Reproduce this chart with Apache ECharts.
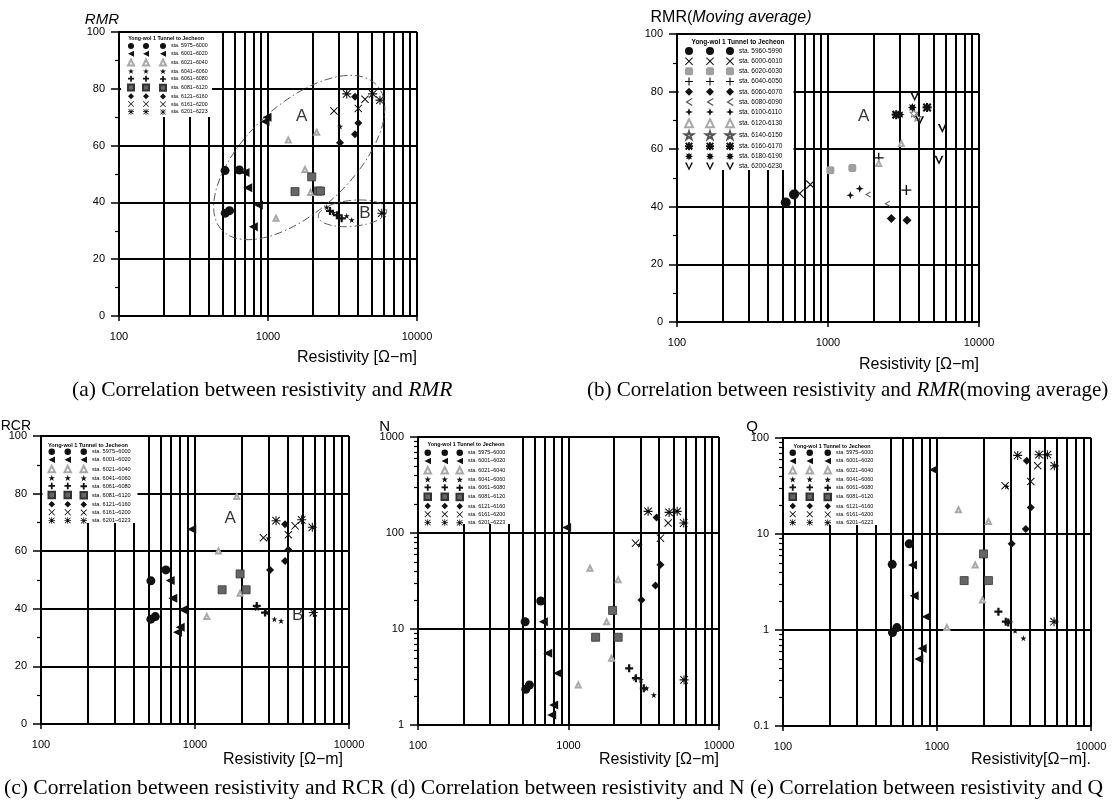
<!DOCTYPE html>
<html><head><meta charset="utf-8">
<script src="https://cdn.jsdelivr.net/npm/echarts@6/dist/echarts.min.js"></script>
<style>html,body{margin:0;padding:0;background:#fff}#c{width:1115px;height:810px}</style>
</head><body><div id="c"></div>
<script>
// ---------- tick values ----------
const xTicks = [100, 1000, 10000];
const yLinTicks = [0, 100];
const nTicks = [1, 1000];
const qTicks = [0.1, 100];

// ---------- legend names ----------
const staNames = ['sta. 5975~6000','sta. 6001~6020','sta. 6021~6040','sta. 6041~6060','sta. 6061~6080','sta. 6081~6120','sta. 6121~6160','sta. 6161~6200','sta. 6201~6223'];
const avgNames = ['sta. 5960-5990','sta. 6000-6010','sta. 6020-6030','sta. 6040-6050','sta. 6060-6070','sta. 6080-6090','sta. 6100-6110','sta. 6120-6130','sta. 6140-6150','sta. 6160-6170','sta. 6180-6190','sta. 6200-6230'];

// ---------- (a) RMR ----------
const rmr1 = [[515,51.2],[517,36.2],[552,37.1],[642,51.4]];
const rmr2 = [[701,50.5],[731,45.2],[861,39.1],[797,31.4],[955,68.5],[985,70]];
const rmr3 = [[1368,62],[2122,64.7],[1771,51.6],[1132,34.4],[1930,43.5]];
const rmr4 = [[2478,38.3],[2743,36.4],[3375,35.2],[3646,33.8],[3043,66.7]];
const rmr5 = [[2606,37],[2900,35.5],[3121,34.4]];
const rmr6 = [[1518,43.8],[1965,49],[2177,44],[2250,44]];
const rmr7 = [[3043,61],[3837,64],[4036,68],[3837,77.2]];
const rmr8 = [[2773,72.2],[4036,73.1],[4477,76.3]];
const rmr9 = [[3375,78.2],[5044,78.2],[5645,76],[5800,36.2]];
const rmrTags = [[1683,70.2,'A'],[4477,36.2,'B']];
const rmrEllipses = [[489,30.3,5370,81.3,0.5],[2176,35,6263,37.3,0.38]];

// ---------- (b) RMR moving average ----------
const avg1 = [[525,41.5],[595,44.3]];
const avg2 = [[649,44.6],[764,47.7]];
const avg3 = [[1036,52.7],[1449,53.5]];
const avg4 = [[2166,57],[3304,45.8]];
const avg5 = [[2626,35.9],[3337,35.3]];
const avg6 = [[1841,44.3],[2472,41.1]];
const avg7 = [[1406,44],[1622,46.3]];
const avg8 = [[3060,62],[2166,55]];
const avg9 = [[3700,72.5],[3900,71]];
const avg10 = [[2830,72],[4530,74.5]];
const avg11 = [[3000,72],[3620,74.5]];
const avg12 = [[3750,78.2],[4045,69.9],[5718,67.2],[5433,56.2]];
const avgTags = [[1723,71.3,'A']];

// ---------- (c) RCR ----------
const rcr1 = [[517,49.7],[517,36.4],[552,37.3],[647,53.5]];
const rcr2 = [[690,49.8],[718,43.7],[834,39.7],[801,33.6],[770,31.9],[953,67.6]];
const rcr3 = [[1420,60.1],[1868,79],[1193,37.3],[1963,45.4]];
const rcr4 = [[2518,40.2],[2926,38.7],[3279,36.4],[3622,35.8],[2998,64.5]];
const rcr5 = [[2518,41],[2851,38.7]];
const rcr6 = [[1500,46.6],[1963,52.1],[2147,46.6]];
const rcr7 = [[3073,53.5],[3846,56.6],[4040,60.5],[3846,69.4]];
const rcr8 = [[2782,64.7],[4040,65.7],[4467,68.8]];
const rcr9 = [[3360,70.6],[4930,70.9],[5780,68.3],[5870,38.7]];
const rcrTags = [[1692,71.4,'A'],[4645,37.9,'B']];

// ---------- (d) N ----------
const n1 = [[515,11.9],[520,2.36],[550,2.61],[654,19.6]];
const n2 = [[681,11.9],[728,5.59],[848,3.46],[797,1.62],[773,1.27],[972,114]];
const n3 = [[1389,43],[2138,32.5],[1791,11.9],[1932,4.96],[1161,2.61]];
const n4 = [[2760,3.07],[3027,2.95],[3297,2.41],[3690,2.05],[2978,75.3]];
const n5 = [[2530,3.9],[2805,3.07],[3165,2.41]];
const n6 = [[1514,8.2],[1963,15.6],[2138,8.2]];
const n7 = [[3055,20.1],[3784,28.4],[4083,46.6],[3846,145]];
const n8 = [[2788,78.4],[4083,88.4],[4592,127]];
const n9 = [[3381,168],[4660,164],[5271,168],[5831,127],[5861,2.95]];

// ---------- (e) Q ----------
const q1 = [[512,4.83],[514,0.94],[549,1.06],[660,7.9]];
const q2 = [[693,4.75],[711,2.27],[851,1.37],[801,0.64],[762,0.5],[949,46.7]];
const q3 = [[1378,17.9],[2158,13.5],[1769,4.75],[1972,2.05],[1158,1.06]];
const q4 = [[2983,1.22],[3213,0.98],[3641,0.82],[2838,31.3]];
const q5 = [[2505,1.55],[2795,1.22],[2900,1.2]];
const q6 = [[1501,3.27],[2004,6.2],[2158,3.27]];
const q7 = [[3056,7.9],[3770,11.3],[4062,18.9],[3828,57.9]];
const q8 = [[2768,31.8],[4062,35.3],[4508,51.4]];
const q9 = [[3343,65.9],[4600,67],[5210,67],[5780,51.4],[5754,1.22]];

// ---------- styles ----------
const SANS = '"Liberation Sans", Arial, sans-serif';
const SERIF = '"Liberation Serif", "Times New Roman", serif';
const SYM = {
  leftTri: 'path://M0,5L10,0L10,10Z',
  star5: 'path://M5,0L6.18,3.62L10,3.62L6.91,5.86L8.09,9.5L5,7.26L1.91,9.5L3.09,5.86L0,3.62L3.82,3.62Z',
  plusBold: 'path://M3.6,0H6.4V3.6H10V6.4H6.4V10H3.6V6.4H0V3.6H3.6Z',
  plusThin: 'path://M4.3,0H5.7V4.3H10V5.7H5.7V10H4.3V5.7H0V4.3H4.3Z',
  cross: 'path://M0,0.9L0.9,0L5,4.1L9.1,0L10,0.9L5.9,5L10,9.1L9.1,10L5,5.9L0.9,10L0,9.1L4.1,5Z',
  asterisk: 'path://M4.4,0H5.6V10H4.4Z M0,4.4H10V5.6H0Z M1.2,0.4L9.6,8.8L8.8,9.6L0.4,1.2Z M8.8,0.4L9.6,1.2L1.2,9.6L0.4,8.8Z',
  asteriskBold: 'path://M3.8,0H6.2V10H3.8Z M0,3.8H10V6.2H0Z M1.7,0L10,8.3L8.3,10L0,1.7Z M8.3,0L10,1.7L1.7,10L0,8.3Z',
  star4: 'path://M5,0L6.3,3.7L10,5L6.3,6.3L5,10L3.7,6.3L0,5L3.7,3.7Z',
  burst: 'path://M10,5L7.59,6.07L8.54,8.54L6.07,7.59L5,10L3.93,7.59L1.46,8.54L2.41,6.07L0,5L2.41,3.93L1.46,1.46L3.93,2.41L5,0L6.07,2.41L8.54,1.46L7.59,3.93Z',
  vee: 'path://M0,0L2.2,0L5,6.5L7.8,0L10,0L5,10Z',
  hook: 'path://M9,0L10,1.2L4,5L10,8.8L9,10L1,5Z'
};
const K = '#111';
const staStyles = [
  {symbol:'circle', size:9, color:K},
  {symbol:SYM.leftTri, size:9, color:K},
  {symbol:'emptyTriangle', size:5, color:'#a8a8a8'},
  {symbol:SYM.star5, size:6, color:K},
  {symbol:SYM.plusBold, size:8, color:K},
  {symbol:'rect', size:8, color:'#666', border:'#333'},
  {symbol:'diamond', size:8, color:K},
  {symbol:SYM.cross, size:8, color:K},
  {symbol:SYM.asterisk, size:9, color:K}
];
const avgStyles = [
  {symbol:'circle', size:10, color:K},
  {symbol:SYM.cross, size:9, color:K},
  {symbol:'roundRect', size:8, color:'#a0a0a0'},
  {symbol:SYM.plusThin, size:10, color:K},
  {symbol:'diamond', size:9, color:K},
  {symbol:SYM.hook, size:6, color:'#555'},
  {symbol:SYM.star4, size:8, color:K},
  {symbol:'emptyTriangle', size:5, color:'#aaa'},
  {symbol:SYM.star5, size:8, color:'#fff', border:'#555'},
  {symbol:SYM.asteriskBold, size:9, color:K},
  {symbol:SYM.burst, size:9, color:K},
  {symbol:SYM.vee, size:9, color:K}
];

const fmtTick = v => String(+Number(v).toPrecision(6));

const grids = [
  {left:119, top:32, width:298, height:284},
  {left:677, top:34, width:302, height:288},
  {left:41, top:436, width:308, height:288},
  {left:418, top:437, width:301, height:288},
  {left:783, top:438, width:308, height:288}
].map(g => Object.assign(g, {containLabel:false, outerBoundsMode:'none'}));

function makeX(i, name, padTop, padRight) {
  return {
    type:'log', logBase:10, gridIndex:i, min:xTicks[0], max:xTicks[xTicks.length-1],
    axisLine:{show:true, onZero:false, lineStyle:{color:'#000', width:2}},
    axisTick:{show:true, length:5, inside:false, lineStyle:{color:'#000', width:1.5}},
    minorTick:{show:false, splitNumber:9},
    splitLine:{show:true, lineStyle:{color:'#000', width:2}},
    minorSplitLine:{show:true, lineStyle:{color:'#000', width:2}},
    axisLabel:{show:true, margin:15, color:'#000', fontFamily:SANS, fontSize:11, formatter:fmtTick, showMinLabel:true, showMaxLabel:true},
    name, nameLocation:'end', nameGap:0, nameMoveOverlap:false,
    nameTextStyle:{color:'#000', fontFamily:SANS, fontSize:16, align:'right', verticalAlign:'top', padding:[padTop, padRight, 0, 0]}
  };
}
function yCommon(i, name, gap, nts) {
  return {
    gridIndex:i,
    axisLine:{show:true, onZero:false, lineStyle:{color:'#000', width:2}},
    axisTick:{show:true, length:8, inside:false, lineStyle:{color:'#000', width:1.5}},
    splitLine:{show:true, lineStyle:{color:'#000', width:2}},
    axisLabel:{show:true, margin:14, color:'#000', fontFamily:SANS, fontSize:11, formatter:fmtTick, showMinLabel:true, showMaxLabel:true},
    name, nameLocation:'end', nameGap:gap, nameMoveOverlap:false,
    nameTextStyle:Object.assign({color:'#000', fontFamily:SANS, fontSize:15, verticalAlign:'bottom'}, nts)
  };
}
function makeYLin(i, name, gap, nts) {
  return Object.assign(yCommon(i, name, gap, nts), {
    type:'value', min:yLinTicks[0], max:yLinTicks[1], interval:20,
    minorTick:{show:true, splitNumber:2, length:4, lineStyle:{color:'#000', width:1.2}}
  });
}
function makeYLog(i, ext, name, gap, nts) {
  return Object.assign(yCommon(i, name, gap, nts), {
    type:'log', logBase:10, min:ext[0], max:ext[1],
    minorTick:{show:true, splitNumber:9, length:4, lineStyle:{color:'#000', width:1.2}}
  });
}

const xAxes = [
  makeX(0, 'Resistivity [Ω−m]', 34, 0),
  makeX(1, 'Resistivity [Ω−m]', 35, 0),
  makeX(2, 'Resistivity [Ω−m]', 28, 6),
  makeX(3, 'Resistivity [Ω−m]', 27, 0),
  makeX(4, 'Resistivity[Ω−m].', 26, 0)
];
const yAxes = [
  makeYLin(0, 'RMR', 5, {align:'right', fontStyle:'italic', padding:[0,0,0,0]}),
  makeYLin(1, '{n|RMR(}{i|Moving average)}', 8, {align:'center', padding:[0,0,0,108], fontSize:16,
    rich:{n:{fontSize:16, fontFamily:SANS, color:'#000'}, i:{fontSize:16, fontFamily:SANS, fontStyle:'italic', color:'#000'}}}),
  makeYLin(2, 'RCR', 3, {align:'right', fontSize:14, padding:[0,10,0,0]}),
  makeYLog(3, nTicks, 'N', 3, {align:'right', padding:[0,28,0,0]}),
  makeYLog(4, qTicks, 'Q', 4, {align:'right', padding:[0,25,0,0]})
];

function buildSeries(idx, names, styles, datas) {
  return datas.map((d, k) => {
    const s = styles[k];
    return {
      type:'scatter', name:names[k], xAxisIndex:idx, yAxisIndex:idx, data:d,
      symbol:s.symbol, symbolSize:s.size, silent:true, z:2,
      itemStyle:{color:s.color, opacity:1, borderColor:s.border || s.color, borderWidth:s.border ? 0.8 : 0},
      emphasis:{disabled:true}
    };
  });
}
function tagSeries(idx, tags) {
  return {
    type:'scatter', xAxisIndex:idx, yAxisIndex:idx, silent:true, z:2, symbolSize:1,
    itemStyle:{color:'rgba(0,0,0,0)'},
    data: tags.map(t => ({value:[t[0], t[1]], name:t[2]})),
    label:{show:true, position:'inside', formatter:'{b}', fontFamily:SANS, fontSize:17, color:'#000'}
  };
}
const ellipseSeries = {
  type:'custom', xAxisIndex:0, yAxisIndex:0, silent:true, z:1, data:rmrEllipses,
  renderItem(params, api) {
    const p1 = api.coord([api.value(0), api.value(1)]);
    const p2 = api.coord([api.value(2), api.value(3)]);
    const dx = p2[0]-p1[0], dy = p2[1]-p1[1];
    const rx = Math.hypot(dx, dy)/2;
    return {type:'ellipse', x:(p1[0]+p2[0])/2, y:(p1[1]+p2[1])/2, rotation:-Math.atan2(dy, dx),
      shape:{cx:0, cy:0, rx:rx, ry:rx*api.value(4)},
      style:{fill:'none', stroke:'#555', lineWidth:0.9, lineDash:[8,3,1.5,3]}};
  }
};

const series = [].concat(
  buildSeries(0, staNames, staStyles, [rmr1,rmr2,rmr3,rmr4,rmr5,rmr6,rmr7,rmr8,rmr9]),
  buildSeries(1, avgNames, avgStyles, [avg1,avg2,avg3,avg4,avg5,avg6,avg7,avg8,avg9,avg10,avg11,avg12]),
  buildSeries(2, staNames, staStyles, [rcr1,rcr2,rcr3,rcr4,rcr5,rcr6,rcr7,rcr8,rcr9]),
  buildSeries(3, staNames, staStyles, [n1,n2,n3,n4,n5,n6,n7,n8,n9]),
  buildSeries(4, staNames, staStyles, [q1,q2,q3,q4,q5,q6,q7,q8,q9]),
  [tagSeries(0, rmrTags), tagSeries(1, avgTags), tagSeries(2, rcrTags), ellipseSeries]
);

function legendTriple(names, cols, top, size, gap, fontSize) {
  return cols.map((left, k) => ({
    orient:'vertical', left:left, top:top, padding:0, itemWidth:size, itemHeight:size, itemGap:gap,
    selectedMode:false, data:names, z:5,
    formatter: k < 2 ? () => '' : n => n,
    textStyle:{fontSize:fontSize, lineHeight:size, color:'#000', fontFamily:SANS, padding:0}
  }));
}
const legends = [].concat(
  legendTriple(staNames, [127, 142, 159], 43, 6, 1.75, 5.3),
  legendTriple(avgNames, [684, 705, 725], 47, 8, 2.18, 6.5),
  legendTriple(staNames, [47.5, 63.5, 79.5], 448.5, 6.5, 1.62, 5.6),
  legendTriple(staNames, [423.5, 440.5, 455.5], 449.5, 6.5, 1.75, 5.4),
  legendTriple(staNames, [788.5, 805.5, 823.5], 449.5, 6.5, 1.75, 5.4)
);

function box(x, y, w, h) {
  return {type:'rect', z:3, silent:true, shape:{x:x, y:y, width:w, height:h}, style:{fill:'#fff', stroke:null}};
}
function boxTitle(x, y, size) {
  return {type:'text', z:6, silent:true, x:x, y:y,
    style:{text:'Yong-wol 1 Tunnel to Jecheon', fontFamily:SANS, fontSize:size, fontWeight:'bold', fill:'#000', align:'center', verticalAlign:'middle'}};
}
function caption(left, top, text, size, rich) {
  return {type:'text', z:6, silent:true, left:left, top:top,
    style:{text:text, fontFamily:SERIF, fontSize:size, fill:'#000', rich:rich || {}}};
}
const italicRich = size => ({i:{fontFamily:SERIF, fontSize:size, fontStyle:'italic', fill:'#000'}});

const graphics = [
  box(121, 33, 91, 84), boxTitle(166, 39, 5.3),
  box(678.5, 35, 115, 135), boxTitle(738, 42, 6.5),
  box(42.5, 437, 95, 86), boxTitle(88, 445, 5.6),
  box(419.5, 438, 92, 86), boxTitle(466, 445, 5.4),
  box(784.5, 439, 95, 86), boxTitle(832, 447, 5.4),
  caption(72, 379, '(a) Correlation between resistivity and {i|RMR}', 21.5, italicRich(21.5)),
  caption(587, 380, '(b) Correlation between resistivity and {i|RMR}(moving average)', 21, italicRich(21)),
  caption(4, 777, '(c) Correlation between resistivity and RCR (d) Correlation between resistivity and N (e) Correlation between resistivity and Q', 21.6)
];

const chart = echarts.init(document.getElementById('c'), null, {renderer:'canvas', width:1115, height:810});
chart.setOption({
  backgroundColor:'#fff',
  animation:false,
  grid:grids,
  xAxis:xAxes,
  yAxis:yAxes,
  legend:legends,
  series:series,
  graphic:{elements:graphics}
});
</script></body></html>
